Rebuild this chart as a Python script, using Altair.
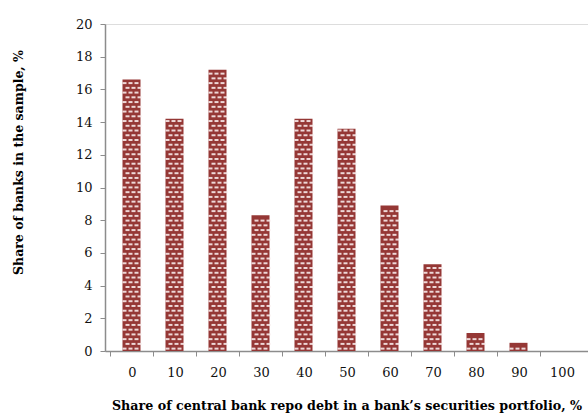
import altair as alt
import numpy as np
import pandas as pd

# Distribution of banks by the share of central bank repo debt in their securities portfolio
repo_share_bins = [0, 10, 20, 30, 40, 50, 60, 70, 80, 90, 100]
bank_share_pct = [16.6, 14.2, 17.2, 8.3, 14.2, 13.6, 8.9, 5.3, 1.1, 0.5, 0.0]

BAR_RED = "#953735"
AXIS_GREY = "#8c8c8c"
SERIF = "DejaVu Serif"

bars_df = pd.DataFrame({"bin": repo_share_bins, "share": bank_share_pct})

# Texture rows for the dotted fill, stacked up each bar
row_step = 0.29
tex_rows = []
for b, v in zip(repo_share_bins, bank_share_pct):
    for k, yy in enumerate(np.arange(row_step / 2, v - 0.1, row_step)):
        tex_rows.append({"bin": b, "share": float(yy), "parity": k % 2})
tex_df = pd.DataFrame(tex_rows, columns=["bin", "share", "parity"])

x_scale = alt.Scale(domain=[-5, 105], nice=False, zero=False)
y_scale = alt.Scale(domain=[0, 20], nice=False)

x_axis = alt.Axis(
    values=list(range(-5, 100, 10)),
    labelExpr="datum.value + 5",
    labelOffset=22,
    labelOverlap=False,
    labelBound=False,
    labelFlush=False,
    tickSize=5,
    tickColor=AXIS_GREY,
    domainColor=AXIS_GREY,
    domainWidth=1.5,
    labelFont=SERIF,
    labelFontSize=13,
    labelColor="#111111",
    labelPadding=10,
    grid=False,
    title="Share of central bank repo debt in a bank\u2019s securities portfolio, %",
    titleFont=SERIF,
    titleFontSize=12.7,
    titleFontWeight="bold",
    titleColor="#000000",
    titleBaseline="alphabetic",
    titleY=58,
)

y_axis = alt.Axis(
    values=list(range(0, 21, 2)),
    tickSize=5,
    tickColor=AXIS_GREY,
    domainColor=AXIS_GREY,
    domainWidth=1.5,
    labelFont=SERIF,
    labelFontSize=13,
    labelColor="#111111",
    labelPadding=8,
    grid=False,
    title="Share of banks in the sample, %",
    titleFont=SERIF,
    titleFontSize=12.5,
    titleFontWeight="bold",
    titleColor="#000000",
    titleX=-87,
    titleY=138,
    titleBaseline="middle",
)

x_enc = alt.X("bin:Q", scale=x_scale, axis=x_axis)
y_enc = alt.Y("share:Q", scale=y_scale, axis=y_axis)

bars = alt.Chart(bars_df).mark_bar(size=18, color=BAR_RED).encode(x=x_enc, y=y_enc)

# Staggered light dashes give the bars their brick-like texture
dash_offsets = {0: [-7, -1, 5], 1: [-4, 2, 8]}
texture_layers = []
for parity, offsets in dash_offsets.items():
    for off in offsets:
        texture_layers.append(
            alt.Chart(tex_df)
            .transform_filter(alt.datum.parity == parity)
            .mark_tick(
                orient="horizontal",
                size=4,
                thickness=2,
                color="#f7e9e9",
                opacity=0.9,
                xOffset=off,
            )
            .encode(x=x_enc, y=y_enc)
        )

chart = (
    alt.layer(bars, *texture_layers)
    .properties(
        width=483,
        height=327,
        autosize=alt.AutoSizeParams(type="none"),
        padding={"left": 105, "top": 24, "right": 0, "bottom": 63},
    )
    .configure_view(strokeWidth=0)
    .configure(background="white")
)

chart.save("out.html", embed_options={"renderer": "svg", "actions": False})
